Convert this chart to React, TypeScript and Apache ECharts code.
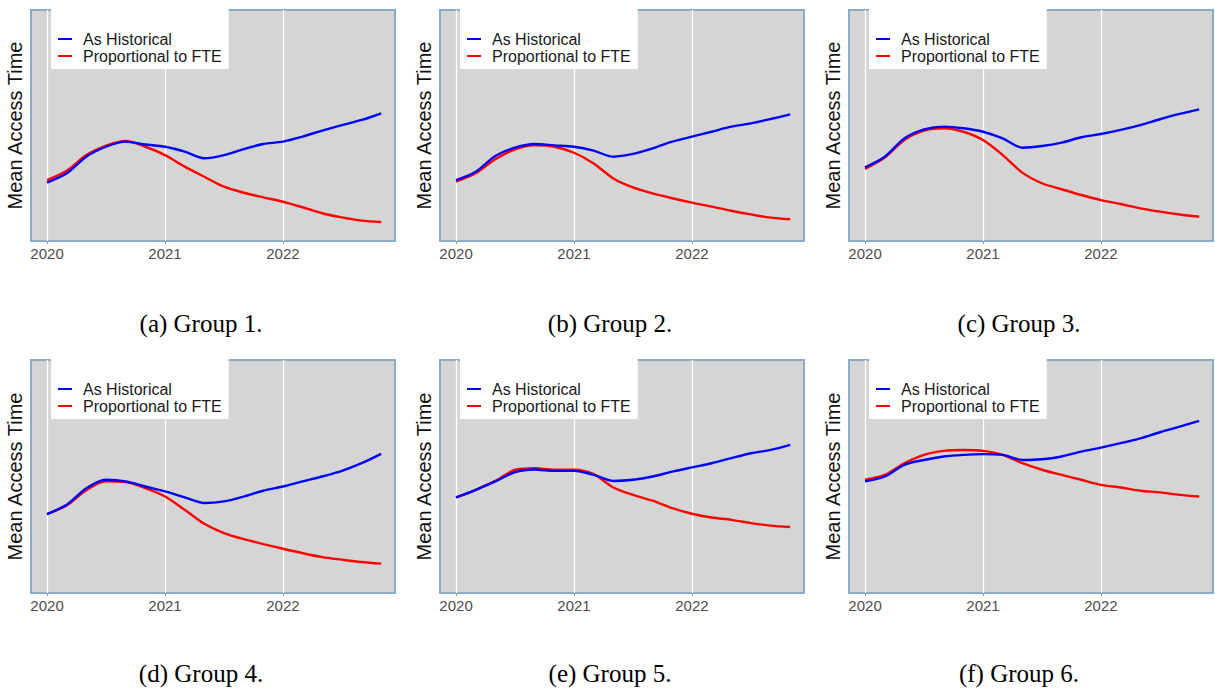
import React, { useEffect, useRef } from "react";
import * as echarts from "echarts";

// Bi-monthly sample dates (decimal years)
const xYears = [
  2020.0, 2020.167, 2020.333, 2020.5, 2020.667, 2020.833,
  2021.0, 2021.167, 2021.333, 2021.5, 2021.667, 2021.833,
  2022.0, 2022.167, 2022.333, 2022.5, 2022.667, 2022.833,
];
const yearTicks = [2020, 2021, 2022];

// Relative mean access time (unitless)
const g1Historical = [25.3, 29.3, 36.5, 40.8, 43.0, 41.8, 40.8, 38.7, 35.8, 37.2, 39.8, 42.0, 43.0, 45.2, 47.8, 50.2, 52.4, 55.3];
const g1Proportional = [26.4, 30.4, 37.2, 41.3, 43.3, 40.8, 37.2, 32.2, 27.8, 23.5, 20.9, 18.9, 17.0, 14.6, 12.0, 10.2, 8.8, 8.2];
const g2Historical = [26.4, 30.0, 36.8, 40.4, 42.0, 41.4, 40.8, 39.1, 36.5, 37.7, 40.1, 43.0, 45.2, 47.3, 49.5, 50.9, 52.8, 54.8];
const g2Proportional = [25.7, 29.3, 35.4, 39.7, 41.4, 40.8, 38.2, 33.6, 27.1, 23.2, 20.6, 18.5, 16.6, 14.9, 13.1, 11.5, 10.1, 9.4];
const g3Historical = [31.9, 36.5, 44.4, 48.3, 49.5, 48.8, 47.3, 44.4, 40.4, 41.1, 42.6, 44.9, 46.3, 48.1, 50.2, 52.7, 55.0, 57.0];
const g3Proportional = [31.2, 36.1, 43.7, 47.8, 48.8, 47.3, 43.7, 37.2, 29.6, 25.0, 22.4, 19.9, 17.7, 16.0, 14.1, 12.7, 11.5, 10.5];
const g4Historical = [33.9, 37.9, 45.0, 48.6, 47.9, 45.7, 43.6, 41.0, 38.6, 39.3, 41.4, 43.9, 45.7, 47.9, 50.0, 52.4, 55.7, 59.7];
const g4Proportional = [33.9, 37.6, 44.1, 47.9, 47.6, 45.0, 41.4, 35.7, 29.7, 25.7, 23.1, 21.0, 19.0, 17.1, 15.4, 14.3, 13.3, 12.6];
const g5Historical = [41.0, 44.3, 47.9, 51.9, 53.0, 52.4, 52.4, 50.7, 48.1, 48.6, 50.0, 52.1, 53.9, 55.7, 57.9, 60.0, 61.4, 63.6];
const g5Proportional = [41.0, 44.3, 48.1, 52.9, 53.6, 52.9, 52.9, 51.0, 45.3, 42.1, 39.6, 36.4, 34.0, 32.4, 31.4, 30.0, 28.9, 28.3];
const g6Historical = [47.9, 50.0, 55.0, 57.1, 58.6, 59.3, 59.6, 59.3, 57.1, 57.4, 58.6, 60.7, 62.4, 64.3, 66.4, 69.0, 71.4, 73.9];
const g6Proportional = [48.6, 50.7, 55.7, 59.3, 61.0, 61.4, 61.0, 59.3, 55.7, 52.9, 50.7, 48.6, 46.4, 45.3, 43.9, 43.2, 42.1, 41.4];

const captions = ["(a) Group 1.", "(b) Group 2.", "(c) Group 3.", "(d) Group 4.", "(e) Group 5.", "(f) Group 6."];
const seriesNames = ["As Historical", "Proportional to FTE"];
const panels = [
  [g1Historical, g1Proportional],
  [g2Historical, g2Proportional],
  [g3Historical, g3Proportional],
  [g4Historical, g4Proportional],
  [g5Historical, g5Proportional],
  [g6Historical, g6Proportional],
];

const BLUE = "#0000ff";
const RED = "#ff0000";

export default function App() {
  const ref = useRef<HTMLDivElement>(null);
  useEffect(() => {
    if (!ref.current) return;
    const chart = echarts.init(ref.current, null, { renderer: "svg" });
    const colLeft = [31, 440, 849];
    const rowTop = [10, 360];
    const rowH = [231, 233];
    const W = 364;
    const grids: any[] = [];
    const xAxes: any[] = [];
    const yAxes: any[] = [];
    const series: any[] = [];
    const legends: any[] = [];
    const graphics: any[] = [];
    panels.forEach((p, i) => {
      const c = i % 3;
      const r = Math.floor(i / 3);
      grids.push({
        left: colLeft[c],
        top: rowTop[r],
        width: W,
        height: rowH[r],
        show: true,
        backgroundColor: "#d5d5d5",
        borderColor: "#8aaccb",
        borderWidth: 2,
      });
      xAxes.push({
        type: "value",
        gridIndex: i,
        min: 2019.864,
        max: 2022.95,
        axisLine: { show: false },
        axisTick: { show: true, customValues: yearTicks, length: 3, lineStyle: { color: "#9a9a9a" } },
        axisLabel: {
          customValues: yearTicks,
          color: "#4d4d4d",
          fontSize: 15,
          fontFamily: "Liberation Sans, Arial, sans-serif",
          margin: 5,
          formatter: (v: number) => String(Math.round(v)),
        },
        splitLine: { show: true, lineStyle: { color: "#ffffff", width: 1.3 } },
      });
      yAxes.push({
        type: "value",
        gridIndex: i,
        min: 0,
        max: 100,
        axisLine: { show: false },
        axisTick: { show: false },
        axisLabel: { show: false },
        splitLine: { show: false },
        name: "Mean Access Time",
        nameLocation: "middle",
        nameRotate: 90,
        nameGap: 6,
        nameTextStyle: { fontSize: 20, color: "#111", fontFamily: "Liberation Sans, Arial, sans-serif" },
      });
      p.forEach((vals, k) => {
        series.push({
          type: "line",
          name: seriesNames[k],
          xAxisIndex: i,
          yAxisIndex: i,
          data: xYears.map((x, j) => [x, vals[j]]),
          showSymbol: false,
          smooth: 0.3,
          lineStyle: { color: k === 0 ? BLUE : RED, width: 2.4 },
          itemStyle: { color: k === 0 ? BLUE : RED },
          z: 3 + (1 - k),
        });
      });
      legends.push({
        data: seriesNames,
        orient: "vertical",
        left: colLeft[c] + 20,
        top: rowTop[r] - 1,
        backgroundColor: "#ffffff",
        padding: [22, 7, 5, 7],
        itemWidth: 14,
        itemHeight: 2,
        itemGap: 1,
        icon: "rect",
        selectedMode: false,
        textStyle: {
          fontSize: 16,
          lineHeight: 16,
          color: "#1a1a1a",
          fontFamily: "Liberation Sans, Arial, sans-serif",
          padding: [0, 0, 0, 6],
        },
      });
      graphics.push({
        type: "text",
        x: c * 409 + 201,
        y: r === 0 ? 323 : 673,
        style: {
          text: captions[i],
          fontSize: 25,
          fontFamily: "Liberation Serif, Times New Roman, serif",
          fill: "#000",
          textAlign: "center",
          textVerticalAlign: "middle",
        },
      });
    });
    chart.setOption({
      animation: false,
      backgroundColor: "#ffffff",
      grid: grids,
      xAxis: xAxes,
      yAxis: yAxes,
      series,
      legend: legends,
      graphic: graphics,
    });
    return () => chart.dispose();
  }, []);
  return (
    <div
      ref={ref}
      style={{ position: "fixed", left: 0, top: 0, width: 1215, height: 688 }}
    />
  );
}
